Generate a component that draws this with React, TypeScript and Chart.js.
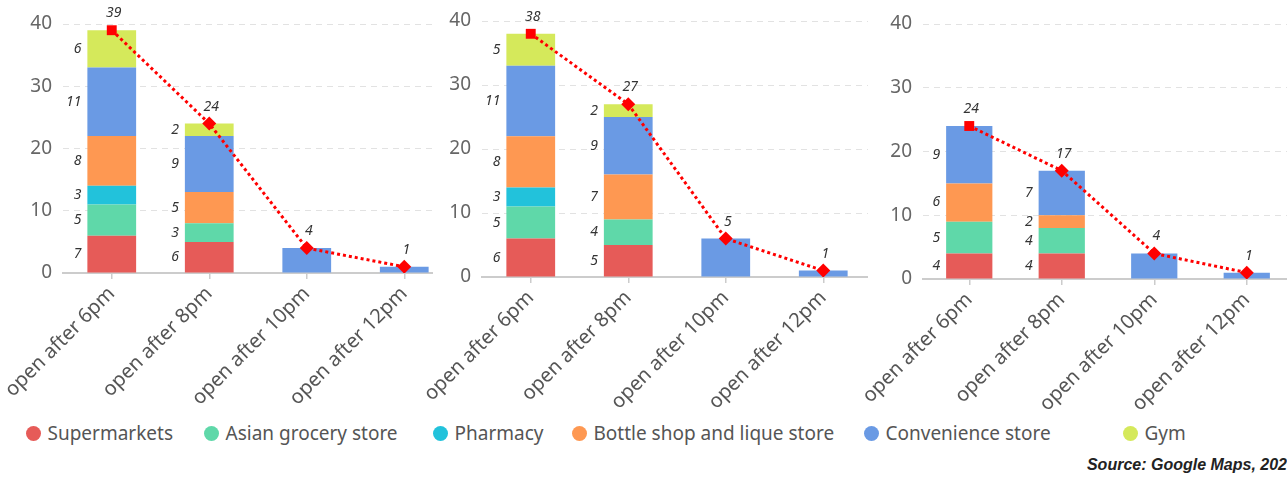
import React, { useEffect, useRef } from 'react';
import { Chart, registerables } from 'chart.js';

Chart.register(...registerables);

// ---------- DATA ----------
const categories = ['open after 6pm', 'open after 8pm', 'open after 10pm', 'open after 12pm'];
const seriesNames = ['Supermarkets', 'Asian grocery store', 'Pharmacy', 'Bottle shop and lique store', 'Convenience store', 'Gym'];
const seriesColors = ['#E65B58', '#5FD8A9', '#22C2DB', '#FE9852', '#6A9AE4', '#D5E95B'];
const yTicks = [0, 10, 20, 30, 40];

// Panel 1
const p1Supermarkets = [6, 5, 0, 0];
const p1Asian = [5, 3, 0, 0];
const p1Pharmacy = [3, 0, 0, 0];
const p1Bottle = [8, 5, 0, 0];
const p1Convenience = [11, 9, 4, 1];
const p1Gym = [6, 2, 0, 0];
const p1Totals = [39, 24, 4, 1];
const p1SegLabels = [
  ['7', '6', '', ''],
  ['5', '3', '', ''],
  ['3', '', '', ''],
  ['8', '5', '', ''],
  ['11', '9', '', ''],
  ['6', '2', '', ''],
];
const p1TotalLabels = ['39', '24', '4', '1'];

// Panel 2
const p2Supermarkets = [6, 5, 0, 0];
const p2Asian = [5, 4, 0, 0];
const p2Pharmacy = [3, 0, 0, 0];
const p2Bottle = [8, 7, 0, 0];
const p2Convenience = [11, 9, 6, 1];
const p2Gym = [5, 2, 0, 0];
const p2Totals = [38, 27, 6, 1];
const p2SegLabels = [
  ['6', '5', '', ''],
  ['5', '4', '', ''],
  ['3', '', '', ''],
  ['8', '7', '', ''],
  ['11', '9', '', ''],
  ['5', '2', '', ''],
];
const p2TotalLabels = ['38', '27', '5', '1'];

// Panel 3
const p3Supermarkets = [4, 4, 0, 0];
const p3Asian = [5, 4, 0, 0];
const p3Pharmacy = [0, 0, 0, 0];
const p3Bottle = [6, 2, 0, 0];
const p3Convenience = [9, 7, 4, 1];
const p3Gym = [0, 0, 0, 0];
const p3Totals = [24, 17, 4, 1];
const p3SegLabels = [
  ['4', '4', '', ''],
  ['5', '4', '', ''],
  ['', '', '', ''],
  ['6', '2', '', ''],
  ['9', '7', '', ''],
  ['', '', '', ''],
];
const p3TotalLabels = ['24', '17', '4', '1'];

const sourceText = 'Source: Google Maps, 202';

// ---------- LAYOUT ----------
const CANVAS_H = 415;
const panels = [
  { left: 0, clipW: 433, canvasW: 470, yAxisW: 63, plotW: 390, top: 24, bottom: 273,
    series: [p1Supermarkets, p1Asian, p1Pharmacy, p1Bottle, p1Convenience, p1Gym], totals: p1Totals, seg: p1SegLabels, tot: p1TotalLabels },
  { left: 420, clipW: 448, canvasW: 460, yAxisW: 62, plotW: 390, top: 21, bottom: 277,
    series: [p2Supermarkets, p2Asian, p2Pharmacy, p2Bottle, p2Convenience, p2Gym], totals: p2Totals, seg: p2SegLabels, tot: p2TotalLabels },
  { left: 855, clipW: 432, canvasW: 445, yAxisW: 68, plotW: 372, top: 24, bottom: 279,
    series: [p3Supermarkets, p3Asian, p3Pharmacy, p3Bottle, p3Convenience, p3Gym], totals: p3Totals, seg: p3SegLabels, tot: p3TotalLabels },
];
const legendX = [33, 211, 440, 579, 871, 1130];

function makeLabelPlugin(seg: string[][], tot: string[]) {
  return {
    id: 'valueLabels',
    afterDatasetsDraw(chart: any) {
      const ctx = chart.ctx;
      ctx.save();
      ctx.font = 'italic 14px "Noto Sans"';
      ctx.fillStyle = '#333';
      ctx.textBaseline = 'middle';
      chart.data.datasets.forEach((ds: any, di: number) => {
        const meta = chart.getDatasetMeta(di);
        if (ds.type === 'line') {
          ctx.textAlign = 'center';
          meta.data.forEach((pt: any, i: number) => {
            const t = tot[i];
            if (t) ctx.fillText(t, pt.x + 2, pt.y - 17);
          });
        } else {
          ctx.textAlign = 'right';
          meta.data.forEach((bar: any, i: number) => {
            const t = seg[di] && seg[di][i];
            if (t) {
              const p = bar.getProps(['x', 'y', 'base', 'width'], true);
              ctx.fillText(t, p.x - p.width / 2 - 6, (p.y + p.base) / 2);
            }
          });
        }
      });
      ctx.restore();
    },
  };
}

function Panel({ cfg }: { cfg: any }) {
  const ref = useRef<HTMLCanvasElement>(null);
  useEffect(() => {
    const barSets = cfg.series.map((vals: number[], si: number) => ({
      type: 'bar',
      label: seriesNames[si],
      data: vals.map((v) => (v === 0 ? null : v)),
      backgroundColor: seriesColors[si],
      borderWidth: 0,
      stack: 'bars',
      order: 2,
      barPercentage: 0.5,
      categoryPercentage: 1,
    }));
    const lineSet = {
      type: 'line',
      label: 'total',
      data: cfg.totals,
      stack: 'line',
      borderColor: '#FF0000',
      borderWidth: 3,
      borderDash: [3, 3],
      fill: false,
      tension: 0,
      pointStyle: ['rect', 'rectRot', 'rectRot', 'rectRot'],
      pointRadius: [7, 7, 7, 7],
      pointBackgroundColor: '#FF0000',
      pointBorderColor: '#FF0000',
      pointBorderWidth: 0,
      order: 1,
    };
    const chart = new Chart(ref.current as HTMLCanvasElement, {
      type: 'bar',
      data: { labels: categories, datasets: [...barSets, lineSet] as any },
      options: {
        responsive: false,
        animation: false,
        devicePixelRatio: 1,
        layout: { padding: { top: cfg.top, right: cfg.canvasW - cfg.yAxisW - cfg.plotW, bottom: 0, left: 0 } },
        plugins: { legend: { display: false }, tooltip: { enabled: false } },
        scales: {
          x: {
            stacked: true,
            offset: true,
            grid: { display: true, offset: false, drawOnChartArea: false, drawTicks: true, tickLength: 6, color: '#cccccc', lineWidth: 1.5 },
            border: { display: true, color: '#cccccc', width: 2 },
            ticks: {
              minRotation: 45, maxRotation: 45, autoSkip: false, padding: 3,
              font: { family: '"Noto Sans"', size: 20 }, color: '#555',
            },
            afterFit: (s: any) => { s.height = CANVAS_H - cfg.bottom; s.paddingLeft = 0; s.paddingRight = 0; },
          },
          y: {
            stacked: true,
            min: 0,
            max: 40,
            afterBuildTicks: (s: any) => { s.ticks = yTicks.map((v) => ({ value: v })); },
            ticks: { padding: 11, font: { family: '"Noto Sans"', size: 19 }, color: '#666' },
            grid: { color: '#e2e2e2', drawTicks: false, lineWidth: 1 },
            border: { display: false, dash: [6, 5] },
            afterFit: (s: any) => { s.width = cfg.yAxisW; s.paddingTop = 0; s.paddingBottom = 0; },
          },
        },
      } as any,
      plugins: [makeLabelPlugin(cfg.seg, cfg.tot)],
    });
    return () => chart.destroy();
  }, []);
  return (
    <div style={{ position: 'absolute', left: cfg.left, top: 0, width: cfg.clipW, height: CANVAS_H, overflow: 'hidden' }}>
      <canvas ref={ref} width={cfg.canvasW} height={CANVAS_H} style={{ width: cfg.canvasW, height: CANVAS_H, display: 'block' }} />
    </div>
  );
}

export default function App() {
  useEffect(() => {
    document.body.style.margin = '0';
    document.body.style.overflow = 'hidden';
  }, []);
  return (
    <div style={{ position: 'relative', width: 1287, height: 477, overflow: 'hidden', background: '#fff' }}>
      {panels.map((p, i) => <Panel key={i} cfg={p} />)}
      {seriesNames.map((name, i) => (
        <div key={name} style={{ position: 'absolute', left: legendX[i] - 7.5, top: 421, height: 24, display: 'flex', alignItems: 'center', whiteSpace: 'nowrap' }}>
          <span style={{ width: 15, height: 15, borderRadius: '50%', background: seriesColors[i], display: 'inline-block', marginRight: 7 }} />
          <span style={{ fontFamily: '"Noto Sans"', fontSize: 19, color: '#555' }}>{name}</span>
        </div>
      ))}
      <div style={{ position: 'absolute', right: 0, top: 456, fontFamily: '"Liberation Sans", Arial', fontWeight: 'bold', fontStyle: 'italic', fontSize: 16, color: '#222', whiteSpace: 'nowrap' }}>
        {sourceText}
      </div>
    </div>
  );
}
